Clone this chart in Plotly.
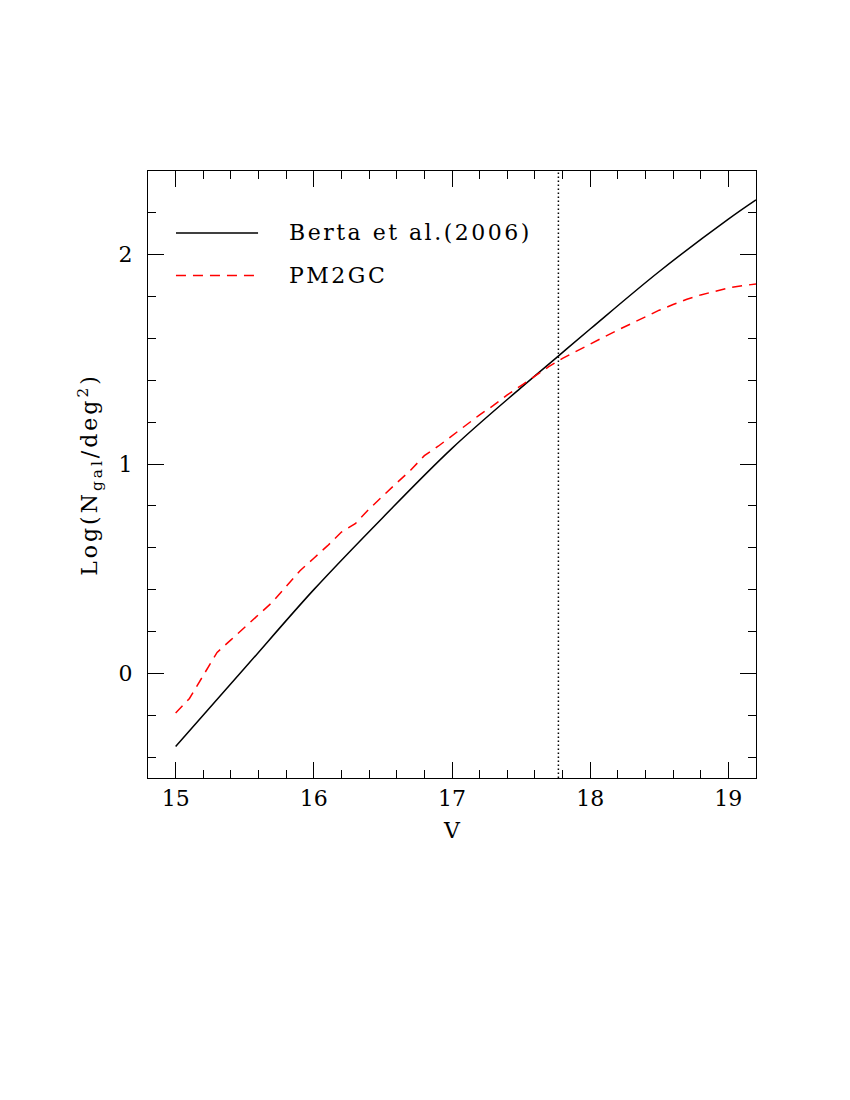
import plotly.graph_objects as go

# Berta et al. (2006) counts
berta_v = [15.0, 15.5, 16.0, 16.5, 17.0, 17.5, 17.75, 18.0, 18.5, 19.0, 19.2]
berta_logn = [-0.35, 0.025, 0.40, 0.745, 1.075, 1.365, 1.505, 1.645, 1.92, 2.17, 2.262]

# PM2GC counts
pm2gc_v = [15.0, 15.1, 15.2, 15.3, 15.4, 15.5, 15.6, 15.7, 15.8, 15.9,
           16.0, 16.1, 16.2, 16.3, 16.4, 16.5, 16.6, 16.7, 16.8, 16.9,
           17.0, 17.1, 17.2, 17.3, 17.4, 17.5, 17.6, 17.7, 17.8, 17.9,
           18.0, 18.1, 18.2, 18.3, 18.4, 18.5, 18.6, 18.7, 18.8, 18.9,
           19.0, 19.1, 19.2]
pm2gc_logn = [-0.19, -0.12, -0.01, 0.10, 0.16, 0.22, 0.28, 0.34, 0.415, 0.49,
              0.55, 0.61, 0.675, 0.715, 0.785, 0.85, 0.91, 0.97, 1.04, 1.085,
              1.135, 1.185, 1.235, 1.28, 1.33, 1.375, 1.42, 1.465, 1.505, 1.54,
              1.575, 1.607, 1.64, 1.673, 1.705, 1.735, 1.762, 1.787, 1.808, 1.826,
              1.841, 1.852, 1.86]

v_limit = 17.77
legend_labels = ["Berta et al.(2006)", "PM2GC"]

FONT = "DejaVu Serif"


def spaced(t, px):
    return f'<span style="letter-spacing:{px}px">{t}</span>'


fig = go.Figure()
fig.add_trace(go.Scatter(x=berta_v, y=berta_logn, mode="lines",
                         line=dict(color="black", width=1.5, shape="spline"),
                         name=legend_labels[0], showlegend=False))
fig.add_trace(go.Scatter(x=pm2gc_v, y=pm2gc_logn, mode="lines",
                         line=dict(color="#ff0000", width=1.5, dash="10px,7px"),
                         name=legend_labels[1], showlegend=False))

fig.add_vline(x=v_limit, line=dict(color="black", width=1.5, dash="1.5px,2.5px"))

# legend drawn manually
leg_y = [0.898, 0.828]
leg_styles = [dict(color="black", width=1.5),
              dict(color="#ff0000", width=1.5, dash="10px,7px")]
for lab, yy, st in zip(legend_labels, leg_y, leg_styles):
    fig.add_shape(type="line", xref="x domain", yref="y domain",
                  x0=0.046, x1=0.181, y0=yy, y1=yy, line=st)
    fig.add_annotation(xref="x domain", yref="y domain", x=0.229, y=yy,
                       text=spaced(lab, 2.5), showarrow=False, xanchor="left", yanchor="middle",
                       font=dict(family=FONT, size=22, color="black"))

axis_common = dict(
    showgrid=False, zeroline=False, showline=True, linecolor="black", linewidth=1.2,
    mirror="ticks", ticks="inside", ticklen=16, tickwidth=1, tickcolor="black",
    minor=dict(ticks="inside", ticklen=8, tickwidth=1, tickcolor="black", dtick=0.2),
    tickfont=dict(family=FONT, size=22, color="black"),
)

fig.update_xaxes(range=[14.8, 19.2], dtick=1, tick0=15,
                 title=dict(text="V", font=dict(family=FONT, size=22, color="black"), standoff=13),
                 **axis_common)
fig.update_yaxes(range=[-0.5, 2.4], dtick=1, tick0=0, ticklabelstandoff=10,
                 title=dict(text=spaced("Log(N<sub>gal</sub>/deg<sup>2</sup>)", 3),
                            font=dict(family=FONT, size=22, color="black"), standoff=14),
                 **axis_common)

fig.update_layout(
    width=850, height=1100,
    margin=dict(l=140, r=102, t=163, b=330),
    plot_bgcolor="white", paper_bgcolor="white",
    showlegend=False,
)

fig.write_html("out.html")
